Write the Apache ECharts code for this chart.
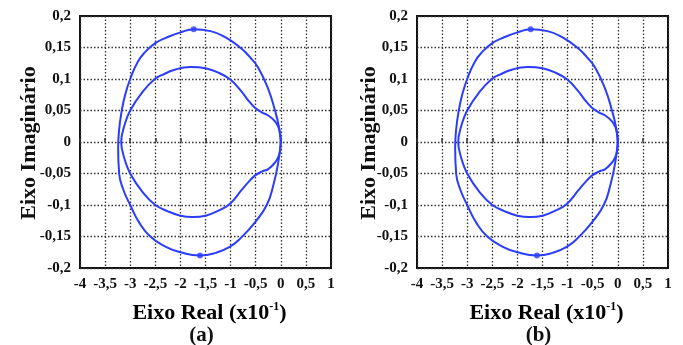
<!DOCTYPE html>
<html>
<head>
<meta charset="utf-8">
<script src="https://cdn.jsdelivr.net/npm/echarts@6/dist/echarts.min.js"></script>
<style>
html,body{margin:0;padding:0;background:#fff;}
#main{width:683px;height:345px;}
</style>
</head>
<body>
<div id="main"></div>
<script>
// Outer loop (real part x10^-1, imaginary part)
var outerReal = [0, -0.04, -0.116, -0.25, -0.45, -0.62, -0.78, -1.1, -1.4, -1.735, -2.0, -2.3, -2.5, -2.7, -2.85, -3.0, -3.1, -3.17, -3.22, -3.24, -3.22, -3.14, -3.0, -2.82, -2.6, -2.3, -2.0, -1.61, -1.3, -1.01, -0.78, -0.51, -0.28, -0.15, -0.05, 0];
var outerImag = [0, 0.025, 0.05, 0.084, 0.118, 0.135, 0.148, 0.166, 0.176, 0.179, 0.174, 0.165, 0.157, 0.143, 0.127, 0.1, 0.075, 0.049, 0.02, -0.01, -0.05, -0.075, -0.1, -0.128, -0.15, -0.166, -0.175, -0.18, -0.176, -0.166, -0.151, -0.127, -0.1, -0.069, -0.032, 0];
// Inner loop
var innerReal = [0, -0.01, -0.05, -0.12, -0.25, -0.38, -0.51, -0.65, -0.78, -1.01, -1.24, -1.5, -1.8, -2.1, -2.35, -2.51, -2.75, -3.0, -3.12, -3.18, -3.12, -3.0, -2.75, -2.5, -2.25, -2.0, -1.75, -1.5, -1.24, -1.01, -0.78, -0.65, -0.51, -0.38, -0.25, -0.12, -0.05, -0.01, 0];
var innerImag = [0, 0.012, 0.024, 0.033, 0.042, 0.047, 0.054, 0.066, 0.08, 0.0995, 0.11, 0.117, 0.119, 0.115, 0.107, 0.1, 0.08, 0.05, 0.025, 0, -0.025, -0.05, -0.08, -0.1, -0.11, -0.117, -0.119, -0.117, -0.109, -0.098, -0.076, -0.064, -0.053, -0.047, -0.043, -0.033, -0.024, -0.012, 0];
// Frequency markers
var markerReal = [-1.735, -1.61];
var markerImag = [0.179, -0.18];
var panelLabels = ['(a)', '(b)'];
var xAxisTitle = 'Eixo Real (x10';
var xAxisSup = '-1';
var yAxisTitle = 'Eixo Imaginário';

function pairs(xs, ys) { return xs.map(function (x, i) { return [x, ys[i]]; }); }
function fmt(v) {
  var r = parseFloat(Number(v).toFixed(3));
  if (r === 0) r = 0;
  return String(r).replace('.', ',');
}

var BLUE = '#2b3dfb';
var FONT = '"Liberation Serif", "Times New Roman", serif';
var grids = [
  { left: 80, top: 16, width: 251, height: 252 },
  { left: 417, top: 16, width: 251, height: 252 }
];

var option = {
  animation: false,
  backgroundColor: '#fff',
  grid: grids.map(function (g) {
    return Object.assign({ show: true, borderColor: '#111', borderWidth: 2, backgroundColor: 'transparent' }, g);
  }),
  xAxis: [0, 1].map(function (i) {
    return {
      type: 'value', gridIndex: i, min: -4, max: 1, interval: 0.5,
      axisLine: { show: false },
      axisTick: { show: true, inside: true, length: 4, lineStyle: { color: '#333', width: 1.5 } },
      splitLine: { show: true, lineStyle: { color: '#333', type: [1.5, 2], width: 1.3 } },
      axisLabel: { formatter: fmt, fontFamily: FONT, fontWeight: 'bold', fontSize: 15, color: '#111', margin: 9 }
    };
  }),
  yAxis: [0, 1].map(function (i) {
    return {
      type: 'value', gridIndex: i, min: -0.2, max: 0.2, interval: 0.05,
      axisLine: { show: false },
      axisTick: { show: false },
      splitLine: { show: true, lineStyle: { color: '#333', type: [1.5, 2], width: 1.3 } },
      axisLabel: { formatter: fmt, fontFamily: FONT, fontWeight: 'bold', fontSize: 15, color: '#111', margin: 9 }
    };
  }),
  series: [],
  graphic: []
};

[0, 1].forEach(function (i) {
  option.series.push({
    type: 'line', xAxisIndex: i, yAxisIndex: i, data: pairs(outerReal, outerImag),
    smooth: 0.5, showSymbol: false, lineStyle: { color: BLUE, width: 2 }, silent: true
  });
  option.series.push({
    type: 'line', xAxisIndex: i, yAxisIndex: i, data: pairs(innerReal, innerImag),
    smooth: 0.4, showSymbol: false, lineStyle: { color: BLUE, width: 2 }, silent: true
  });
  option.series.push({
    type: 'scatter', xAxisIndex: i, yAxisIndex: i, data: pairs(markerReal, markerImag),
    symbol: 'circle', symbolSize: 6, itemStyle: { color: BLUE }, silent: true
  });
  var g = grids[i];
  var cx = g.left + g.width / 2;
  option.graphic.push({
    type: 'text', x: (i === 0 ? 29 : 369), y: 143, z: 10,
    rotation: Math.PI / 2, originX: 0, originY: 0,
    style: { text: yAxisTitle, font: 'bold 22px ' + FONT, fill: '#111', align: 'center', verticalAlign: 'middle' }
  });
  option.graphic.push({
    type: 'text', x: cx + 4, y: 313, z: 10,
    style: {
      text: '{m|' + xAxisTitle + '}{s|' + xAxisSup + '}{m|)}',
      align: 'center', verticalAlign: 'middle',
      rich: {
        m: { fontFamily: FONT, fontWeight: 'bold', fontSize: 22, color: '#111' },
        s: { fontFamily: FONT, fontWeight: 'bold', fontSize: 12, color: '#111', verticalAlign: 'top', padding: [0, 0, 12, 0] }
      }
    }
  });
  option.graphic.push({
    type: 'text', x: cx - 4, y: 336, z: 10,
    style: { text: panelLabels[i], font: 'bold 21px ' + FONT, fill: '#111', align: 'center', verticalAlign: 'middle' }
  });
});

var chart = echarts.init(document.getElementById('main'), null, { renderer: 'canvas' });
chart.setOption(option);
</script>
</body>
</html>
